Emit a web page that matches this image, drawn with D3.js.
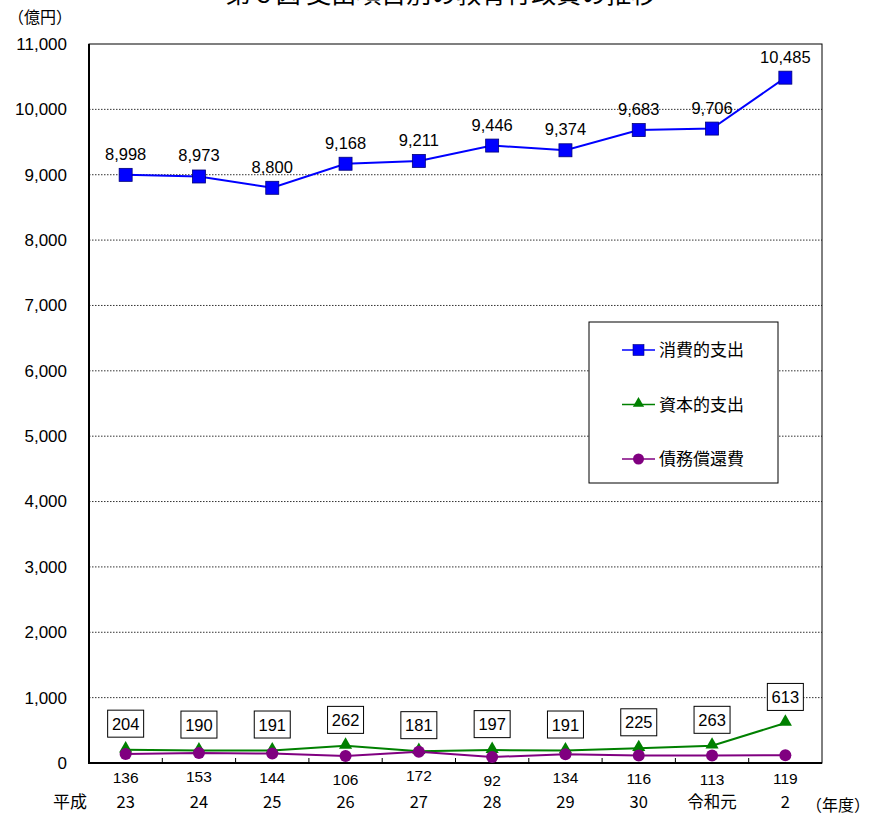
<!DOCTYPE html>
<html>
<head>
<meta charset="utf-8">
<script src="https://cdn.jsdelivr.net/npm/d3@7"></script>
<style>
  html, body { margin: 0; padding: 0; background: #fff; }
  svg { display: block; font-family: "Liberation Sans", "Noto Sans CJK JP", sans-serif; }
</style>
</head>
<body>
<svg id="chart" width="886" height="816"></svg>
<script>
// Fiscal years (平成23 … 令和2)
const years = ["23", "24", "25", "26", "27", "28", "29", "30", "令和元", "2"];
// 消費的支出 (億円)
const consumption = [8998, 8973, 8800, 9168, 9211, 9446, 9374, 9683, 9706, 10485];
// 資本的支出 (億円)
const capital = [204, 190, 191, 262, 181, 197, 191, 225, 263, 613];
// 債務償還費 (億円)
const debt = [136, 153, 144, 106, 172, 92, 134, 116, 113, 119];
const yTicks = [0, 1000, 2000, 3000, 4000, 5000, 6000, 7000, 8000, 9000, 10000, 11000];

const svg = d3.select("#chart");
const m = { left: 89, right: 822, top: 44, bottom: 763 };

const x = d3.scaleBand().domain(years).range([m.left, m.right]);
const cx = d => x(d) + x.bandwidth() / 2;
const y = d3.scaleLinear().domain([0, 11000]).range([m.bottom, m.top]);
const fmt = d3.format(",");

// Title (runs off the top of the page)
svg.append("text")
  .attr("x", 441).attr("y", 3)
  .attr("text-anchor", "middle")
  .attr("font-family", "Noto Sans CJK JP")
  .attr("font-size", 25)
  .text("第６図 支出項目別の教育行政費の推移");

// Unit labels
svg.append("text").attr("x", 8).attr("y", 23)
  .attr("font-family", "Noto Sans CJK JP").attr("font-size", 16).text("（億円）");
svg.append("text").attr("x", 806).attr("y", 811)
  .attr("font-family", "Noto Sans CJK JP").attr("font-size", 16).text("（年度）");

// Dotted gridlines
svg.append("g").selectAll("line")
  .data(yTicks.filter(t => t > 0 && t < 11000))
  .join("line")
  .attr("x1", m.left).attr("x2", m.right)
  .attr("y1", d => y(d)).attr("y2", d => y(d))
  .attr("stroke", "#333").attr("stroke-width", 1)
  .attr("stroke-dasharray", "1.5,1.5");

// Y axis labels
const yAxis = d3.axisLeft(y).tickValues(yTicks).tickFormat(fmt).tickSize(0).tickPadding(22);
const yg = svg.append("g").attr("transform", `translate(${m.left},0)`).call(yAxis);
yg.select(".domain").remove();
yg.selectAll("text").attr("font-size", 17).attr("fill", "#000")
  .attr("font-family", "Liberation Sans");

// Plot frame
svg.append("rect")
  .attr("x", m.left).attr("y", m.top)
  .attr("width", m.right - m.left).attr("height", m.bottom - m.top)
  .attr("fill", "none").attr("stroke", "#000").attr("stroke-width", 1);
svg.append("path")
  .attr("d", `M${m.left},${m.top}V${m.bottom}H${m.right}`)
  .attr("fill", "none").attr("stroke", "#000").attr("stroke-width", 2);

// Category boundary ticks on the bottom axis (pointing inward)
svg.append("g").selectAll("line")
  .data(years.slice(1))
  .join("line")
  .attr("x1", d => x(d)).attr("x2", d => x(d))
  .attr("y1", m.bottom).attr("y2", m.bottom - 5)
  .attr("stroke", "#000").attr("stroke-width", 1);

// Year labels
svg.append("g").selectAll("text")
  .data(years)
  .join("text")
  .attr("x", d => cx(d)).attr("y", 808)
  .attr("text-anchor", "middle")
  .attr("font-family", "Noto Sans CJK JP")
  .attr("font-size", 16.5)
  .text(d => d);
svg.append("text").attr("x", 70).attr("y", 808)
  .attr("text-anchor", "middle")
  .attr("font-family", "Noto Sans CJK JP").attr("font-size", 17).text("平成");

const line = d3.line().x((d, i) => cx(years[i])).y(d => y(d));

// 資本的支出 series
svg.append("path").datum(capital)
  .attr("d", line).attr("fill", "none")
  .attr("stroke", "#008000").attr("stroke-width", 2);
const tri = d3.symbol().type(d3.symbolTriangle).size(75);
svg.append("g").selectAll("path")
  .data(capital).join("path")
  .attr("d", tri)
  .attr("transform", (d, i) => `translate(${cx(years[i])},${y(d) - 1})`)
  .attr("fill", "#008000");

// 債務償還費 series
svg.append("path").datum(debt)
  .attr("d", line).attr("fill", "none")
  .attr("stroke", "#800080").attr("stroke-width", 2);
svg.append("g").selectAll("circle")
  .data(debt).join("circle")
  .attr("cx", (d, i) => cx(years[i])).attr("cy", d => y(d))
  .attr("r", 6).attr("fill", "#800080");

// 消費的支出 series
svg.append("path").datum(consumption)
  .attr("d", line).attr("fill", "none")
  .attr("stroke", "#0000ff").attr("stroke-width", 2);
svg.append("g").selectAll("rect")
  .data(consumption).join("rect")
  .attr("x", (d, i) => cx(years[i]) - 6.5).attr("y", d => y(d) - 6.5)
  .attr("width", 13).attr("height", 13)
  .attr("fill", "#0000ff").attr("stroke", "#00007a").attr("stroke-width", 0.8);

// Value labels: 消費的支出 above points
svg.append("g").selectAll("text")
  .data(consumption).join("text")
  .attr("x", (d, i) => cx(years[i])).attr("y", d => y(d) - 15)
  .attr("text-anchor", "middle").attr("font-size", 16.5)
  .text(d => fmt(d));

// Value labels: 資本的支出 in boxes above points
const capLabels = svg.append("g").selectAll("g")
  .data(capital).join("g")
  .attr("transform", (d, i) => `translate(${cx(years[i])},${y(d) - 26})`);
capLabels.append("rect")
  .attr("x", -18).attr("y", -13.5).attr("width", 36).attr("height", 27)
  .attr("fill", "#fff").attr("stroke", "#000").attr("stroke-width", 1);
capLabels.append("text")
  .attr("y", 6).attr("text-anchor", "middle").attr("font-size", 16.5)
  .text(d => fmt(d));

// Value labels: 債務償還費 below the axis
svg.append("g").selectAll("text")
  .data(debt).join("text")
  .attr("x", (d, i) => cx(years[i])).attr("y", d => y(d) + 29)
  .attr("text-anchor", "middle").attr("font-size", 15.5)
  .text(d => fmt(d));

// Legend
const legend = svg.append("g").attr("transform", "translate(589,322)");
legend.append("rect").attr("width", 189).attr("height", 161)
  .attr("fill", "#fff").attr("stroke", "#000").attr("stroke-width", 1);
const legendItems = [
  { name: "消費的支出", color: "#0000ff", mark: "square" },
  { name: "資本的支出", color: "#008000", mark: "triangle" },
  { name: "債務償還費", color: "#800080", mark: "circle" }
];
const li = legend.selectAll("g.item").data(legendItems).join("g")
  .attr("transform", (d, i) => `translate(0,${28 + i * 54.5})`);
li.append("line").attr("x1", 33).attr("x2", 66).attr("y1", 0).attr("y2", 0)
  .attr("stroke", d => d.color).attr("stroke-width", 1.5);
li.each(function(d) {
  const g = d3.select(this);
  if (d.mark === "square") {
    g.append("rect").attr("x", 44).attr("y", -5.5).attr("width", 11).attr("height", 11)
      .attr("fill", d.color).attr("stroke", "#00007a").attr("stroke-width", 0.6);
  } else if (d.mark === "triangle") {
    g.append("path").attr("d", d3.symbol().type(d3.symbolTriangle).size(55))
      .attr("transform", "translate(49.5,-1)").attr("fill", d.color);
  } else {
    g.append("circle").attr("cx", 49.5).attr("cy", 0).attr("r", 5.5).attr("fill", d.color);
  }
});
li.append("text").attr("x", 70).attr("y", 6)
  .attr("font-family", "Noto Sans CJK JP").attr("font-size", 17)
  .text(d => d.name);
</script>
</body>
</html>
